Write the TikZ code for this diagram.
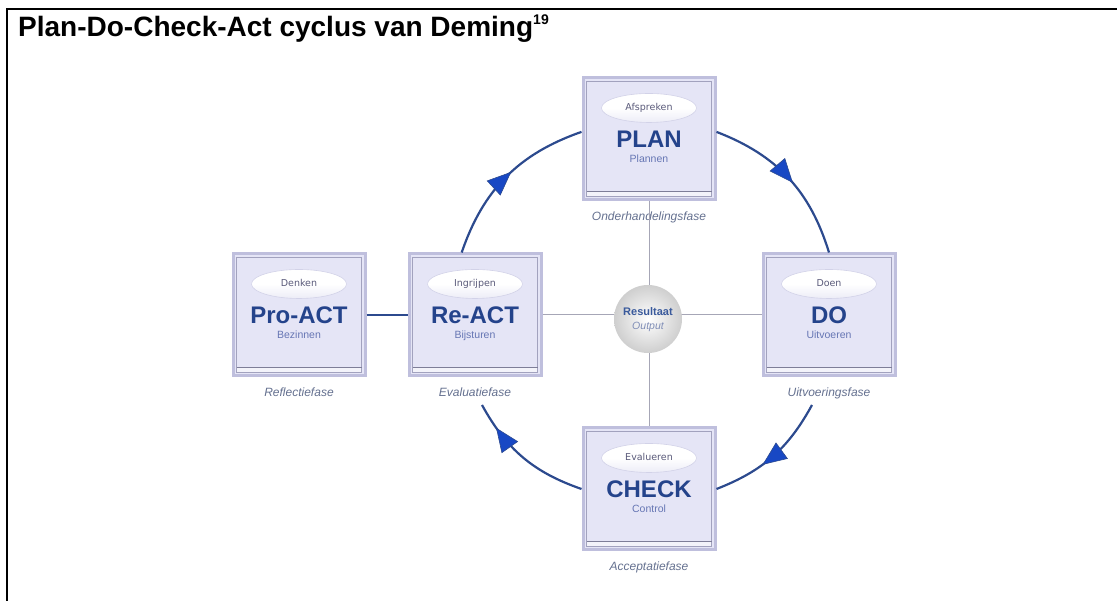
\documentclass[tikz,border=0pt]{standalone}
\usepackage{fontspec}
\setmainfont{Liberation Sans}
\newfontfamily\ellfont{DejaVu Sans}
\usetikzlibrary{shapes.geometric, arrows.meta, decorations.markings}

\definecolor{boxfill}{HTML}{E5E5F6}
\definecolor{boxborder}{HTML}{BFBFDD}
\definecolor{boxinner}{HTML}{A2A2BE}
\definecolor{shelfline}{HTML}{7E7E98}
\definecolor{shelf}{HTML}{F3F3FA}
\definecolor{bigblue}{HTML}{24438B}
\definecolor{subblue}{HTML}{6676B4}
\definecolor{labcol}{HTML}{64708F}
\definecolor{elltext}{HTML}{5A5A7A}
\definecolor{elltop}{HTML}{FFFFFF}
\definecolor{ellbottom}{HTML}{ECECF7}
\definecolor{ellrim}{HTML}{D2D2E8}
\definecolor{arcline}{HTML}{2C4A8E}
\definecolor{arrowfill}{HTML}{1848C4}
\definecolor{crossline}{HTML}{A6A6B6}
\definecolor{resblue}{HTML}{3A5A9C}
\definecolor{outcol}{HTML}{7F8DB6}

\tikzset{
  x=1pt, y=1pt,
  boxst/.style={rectangle, minimum width=132pt, minimum height=122pt,
    inner sep=0pt, fill=boxfill, draw=boxborder, line width=3pt,
    path picture={
      \fill[shelf] ([shift={(3pt,3pt)}]path picture bounding box.south west)
        rectangle ([shift={(-3pt,9pt)}]path picture bounding box.south east);
      \draw[boxinner, line width=0.7pt]
        ([shift={(3.5pt,3.5pt)}]path picture bounding box.south west)
        rectangle ([shift={(-3.5pt,-3.5pt)}]path picture bounding box.north east);
      \draw[shelfline, line width=0.9pt]
        ([shift={(3.5pt,9pt)}]path picture bounding box.south west)
        -- ([shift={(-3.5pt,9pt)}]path picture bounding box.south east);
    }},
  ellst/.style={ellipse, minimum width=95pt, minimum height=29pt, inner sep=0pt,
    top color=elltop, bottom color=ellbottom, middle color=elltop,
    draw=ellrim, line width=0.6pt,
    text=elltext, font=\ellfont\fontsize{9.5}{10}\selectfont,
    text height=7pt, text depth=2pt},
  bigst/.style={inner sep=0pt, text=bigblue,
    font=\bfseries\fontsize{24}{26}\selectfont, text height=17.2pt, text depth=0pt},
  subst/.style={inner sep=0pt, text=subblue,
    font=\fontsize{10.5}{12}\selectfont, text height=7.6pt, text depth=2pt},
  labst/.style={inner sep=0pt, text=labcol,
    font=\itshape\fontsize{12}{14}\selectfont, text height=8.6pt, text depth=2.4pt},
  crossst/.style={draw=crossline, line width=1pt},
  linkst/.style={draw=arcline, line width=2.8pt},
  arcst/.style={draw=arcline, line width=2.2pt, postaction={decorate},
    decoration={markings, mark=at position #1 with
      {\arrow{Triangle[length=24pt, width=20pt, fill=arrowfill, color=arcline, line width=0.6pt]}}}},
  arcst/.default=0.5,
  ballst/.style={circle, minimum size=68pt, inner sep=0pt,
    shading=radial, inner color=white, outer color=black!19},
}

% one phase box: name, position, ellipse text, main word, sub word, phase label
\newcommand\pdcabox[6]{%
  \node[boxst] (#1) at (#2) {};
  \node[ellst] (#1E) at ([yshift=31pt]#1.center) {#3};
  \node[bigst] (#1T) at (#1.center) {#4};
  \node[subst] (#1S) at ([yshift=-21pt]#1.center) {#5};
  \node[labst] (#1L) at ([yshift=-78pt]#1.center) {#6};
}

\begin{document}
\begin{tikzpicture}
\useasboundingbox (0,0) rectangle (1117,601);

% page frame and heading
\draw[line width=1.6pt] (7,0) -- (7,592) -- (1117,592);
\node[anchor=base west, inner sep=0pt, font=\bfseries\fontsize{28}{30}\selectfont]
  (title) at (18,564)
  {Plan-Do-Check-Act cyclus van Deming\raisebox{12pt}{\fontsize{14}{14}\selectfont 19}};

% phase boxes
\pdcabox{plan}{649,462}{Afspreken}{PLAN}{Plannen}{Onderhandelingsfase}
\pdcabox{do}{829,286}{Doen}{DO}{Uitvoeren}{Uitvoeringsfase}
\pdcabox{check}{649,112}{Evalueren}{CHECK}{Control}{Acceptatiefase}
\pdcabox{react}{475,286}{Ingrijpen}{Re-ACT}{Bijsturen}{Evaluatiefase}
\pdcabox{proact}{299,286}{Denken}{Pro-ACT}{Bezinnen}{Reflectiefase}

% cross through the centre
\draw[crossst] (plan.south) -- (check.north);
\draw[crossst] (react.east) -- (do.west);

% result in the middle
\node[ballst] (res) at (648,282) {};
\node[inner sep=0pt, text=resblue, font=\bfseries\fontsize{11}{12}\selectfont] (resA) at (648,289) {Resultaat};
\node[inner sep=0pt, text=outcol, font=\itshape\fontsize{10.5}{12}\selectfont] (resB) at (648,274) {Output};

% link between the two act phases
\draw[linkst] (proact.east) -- (react.west);

% the cycle
\coordinate (doend) at (812,196);
\coordinate (reend) at (482,196);
\draw[arcst=0.54] (react.102) to[bend left=26] (plan.174);
\draw[arcst=0.54] (plan.6) to[bend left=26] (do.north);
\draw[arcst=0.6] (doend) to[bend left=20] (check.east);
\draw[arcst=0.8] (check.west) to[bend left=21] (reend);
\end{tikzpicture}
\end{document}
